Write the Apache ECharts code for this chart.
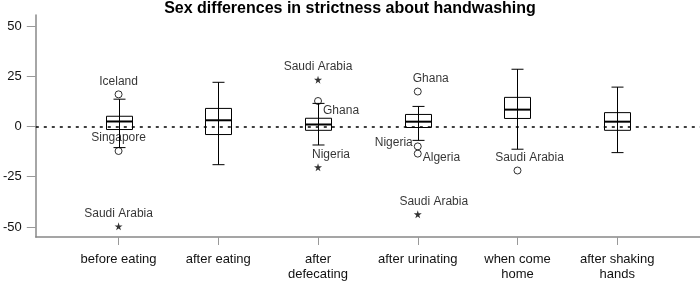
<!DOCTYPE html>
<html>
<head>
<meta charset="utf-8">
<script src="https://cdn.jsdelivr.net/npm/echarts@6/dist/echarts.min.js"></script>
<style>
  html, body { margin: 0; padding: 0; background: #fff; }
  #chart { width: 700px; height: 284px; }
</style>
</head>
<body>
<div id="chart"></div>
<script>
// box plot data
const categories = ['before eating', 'after eating', 'after\ndefecating', 'after urinating', 'when come\nhome', 'after shaking\nhands'];
const whiskerLow  = [-10.5, -19.0, -9.2, -6.9, -11.3, -13.0];
const q1          = [-1.5, -4.0, -1.9, -0.5, 4.0, -1.9];
const median      = [2.5, 3.1, 1.0, 2.4, 8.4, 2.4];
const q3          = [5.1, 9.0, 4.1, 6.0, 14.5, 6.9];
const whiskerHigh = [13.6, 22.0, 11.5, 10.0, 28.5, 19.6];

// outliers (circle) and extremes (star)
const outlierCat   = [0, 0, 0, 2, 2, 2, 3, 3, 3, 3, 4];
const outlierValue = [16.0, -12.2, -49.7, 23.3, 12.7, -20.3, 17.4, -9.9, -13.5, -43.7, -21.9];
const outlierName  = ['Iceland', 'Singapore', 'Saudi Arabia', 'Saudi Arabia', 'Ghana', 'Nigeria', 'Ghana', 'Nigeria', 'Algeria', 'Saudi Arabia', 'Saudi Arabia'];
const outlierKind  = ['o', 'o', '*', '*', 'o', '*', 'o', 'o', 'o', '*', 'o'];

const yTicks = [-50, -25, 0, 25, 50];

// where each outlier label sits (style only)
const labelPlace = [
  { position: 'top', offset: [0, 0] },
  { position: 'top', offset: [0, 0] },
  { position: 'top', offset: [0, 0] },
  { position: 'top', offset: [0, 0] },
  { position: 'right', offset: [0, 10] },
  { position: 'top', offset: [13, 0] },
  { position: 'top', offset: [13, 0] },
  { position: 'left', offset: [0, -4] },
  { position: 'right', offset: [0, 4] },
  { position: 'top', offset: [16, 0] },
  { position: 'top', offset: [12, 0] }
];

const FONT = "'Liberation Sans', Arial, sans-serif";
const STAR = 'path://M50,0 L61,35 L98,35 L68,57 L79,91 L50,70 L21,91 L32,57 L2,35 L39,35 Z';

let boxData = categories.map((c, i) => [i, whiskerLow[i], q1[i], median[i], q3[i], whiskerHigh[i]]);

let outlierData = outlierCat.map((c, i) => ({
  value: [c, outlierValue[i]],
  name: outlierName[i],
  symbol: outlierKind[i] === '*' ? STAR : 'circle',
  symbolSize: outlierKind[i] === '*' ? 8 : 7,
  itemStyle: outlierKind[i] === '*'
    ? { color: '#000', borderWidth: 0 }
    : { color: 'transparent', borderColor: '#000', borderWidth: 1 },
  label: {
    show: true,
    position: labelPlace[i].position,
    offset: labelPlace[i].offset,
    distance: labelPlace[i].position === 'top' ? 3 : 1,
    color: '#000'
  }
}));

function renderBox(params, api) {
  const x = api.value(0);
  const lo = api.coord([x, api.value(1)]);
  const b1 = api.coord([x, api.value(2)]);
  const md = api.coord([x, api.value(3)]);
  const b3 = api.coord([x, api.value(4)]);
  const hi = api.coord([x, api.value(5)]);
  const cx = Math.round(lo[0]) + 0.5;
  const hw = 13, cw = 6;
  const stroke = { stroke: '#000', lineWidth: 1, fill: null };
  return {
    type: 'group',
    children: [
      { type: 'line', shape: { x1: cx, y1: lo[1], x2: cx, y2: hi[1] }, style: stroke },
      { type: 'line', shape: { x1: cx - cw, y1: lo[1], x2: cx + cw, y2: lo[1] }, style: stroke },
      { type: 'line', shape: { x1: cx - cw, y1: hi[1], x2: cx + cw, y2: hi[1] }, style: stroke },
      { type: 'rect', shape: { x: cx - hw, y: b3[1], width: hw * 2, height: b1[1] - b3[1] }, style: stroke },
      { type: 'line', shape: { x1: cx - hw, y1: md[1], x2: cx + hw, y2: md[1] }, style: { stroke: '#000', lineWidth: 2 } }
    ]
  };
}

const chart = echarts.init(document.getElementById('chart'), null, { renderer: 'canvas' });

const option = {
  animation: false,
  backgroundColor: '#fff',
  textStyle: { fontFamily: FONT },
  title: {
    text: 'Sex differences in strictness about handwashing',
    left: 'center',
    top: 1,
    padding: 0,
    textStyle: { fontFamily: FONT, fontSize: 16, fontWeight: 'bold', color: '#000' }
  },
  grid: { left: 35, right: 0, top: 15, bottom: 47, containLabel: false },
  xAxis: {
    type: 'value',
    min: -0.83,
    max: 5.83,
    splitLine: { show: false },
    axisLine: { show: true, onZero: false, lineStyle: { color: '#888', width: 1.5 } },
    axisTick: { show: true, length: 8, customValues: [0, 1, 2, 3, 4, 5], lineStyle: { color: '#999' } },
    axisLabel: {
      customValues: [0, 1, 2, 3, 4, 5],
      formatter: v => categories[Math.round(v)],
      fontSize: 13,
      lineHeight: 15,
      color: '#111',
      margin: 15,
      align: 'center',
      verticalAlign: 'top'
    }
  },
  yAxis: {
    type: 'value',
    min: -55,
    max: 55.5,
    splitLine: { show: false },
    axisLine: { show: true, onZero: false, lineStyle: { color: '#888', width: 1.5 } },
    axisTick: { show: true, length: 9, customValues: yTicks, lineStyle: { color: '#999' } },
    axisLabel: { customValues: yTicks, fontSize: 13, color: '#111', margin: 14 }
  },
  series: [
    {
      type: 'custom',
      renderItem: renderBox,
      data: boxData,
      encode: { x: 0, y: [1, 2, 3, 4, 5] },
      z: 3,
      markLine: {
        silent: true,
        symbol: 'none',
        label: { show: false },
        lineStyle: { color: '#000', type: [3, 5], width: 1.5 },
        data: [{ yAxis: 0 }]
      }
    },
    {
      type: 'scatter',
      data: outlierData,
      z: 4,
      label: {
        formatter: p => p.name,
        fontFamily: FONT,
        fontSize: 12,
        color: '#000'
      }
    }
  ]
};

chart.setOption(option);
</script>
</body>
</html>
